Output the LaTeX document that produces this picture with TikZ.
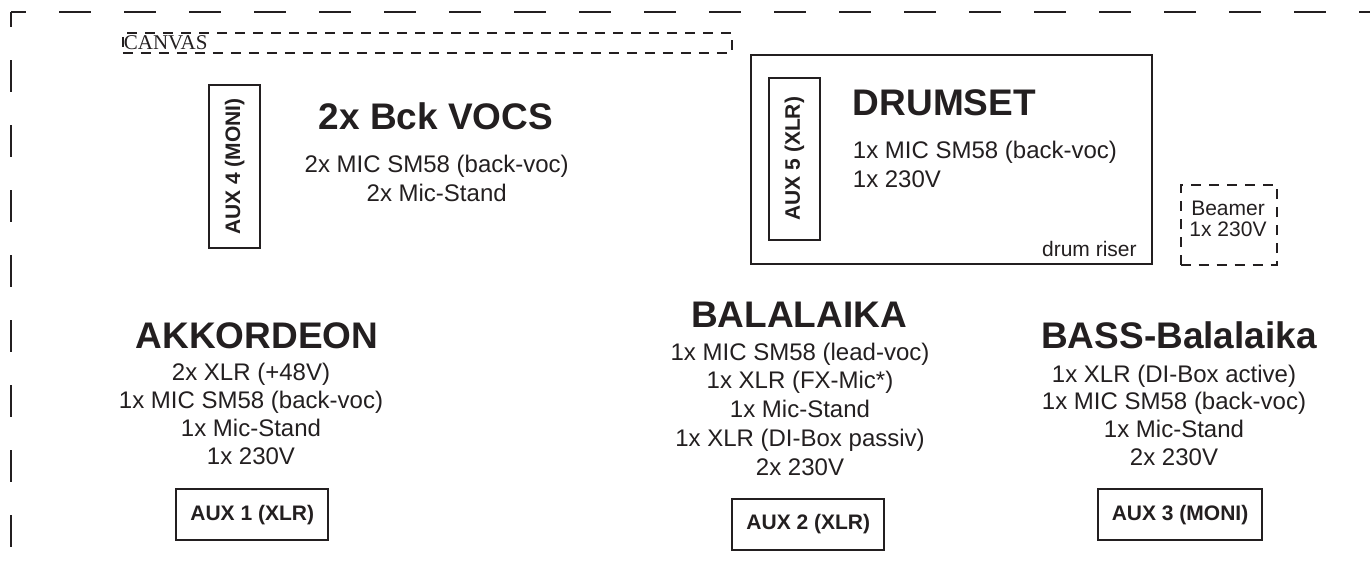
\documentclass[tikz,border=0pt]{standalone}
\usepackage{fontspec}
\setmainfont{Liberation Sans}
\newfontfamily\canvasfont{Liberation Serif}
\definecolor{ink}{RGB}{35,31,32}
\begin{document}
\begin{tikzpicture}[x=0.5pt,y=-0.5pt,
  every node/.style={text=ink, inner sep=0pt},
  titletext/.style={font=\bfseries\fontsize{18.5}{22}\selectfont, anchor=base},
  bodyline/.style={font=\fontsize{12}{14}\selectfont, anchor=base},
  smalltext/.style={font=\fontsize{10.5}{12}\selectfont, anchor=base},
  auxbox/.style={draw=ink, line width=1pt, font=\bfseries\fontsize{10.5}{12}\selectfont,
    minimum height=25.5pt, inner sep=0pt},
  framedash/.style={draw=ink, line width=0.9pt, dash pattern=on 16pt off 16.5pt, dash phase=8.5pt},
  finedash/.style={draw=ink, line width=0.8pt, dash pattern=on 5pt off 4pt},
  plainbox/.style={draw=ink, line width=1pt}
]
\useasboundingbox (0,0) rectangle (1370,568);

% outer stage frame (cut at the right and bottom)
\coordinate (corner) at (11,12);
\coordinate (frameright) at (1375,12);
\coordinate (framebottom) at (11,575);
\draw[framedash] (corner) -- (frameright);
\draw[framedash] (corner) -- (framebottom);

% canvas
\node[finedash, minimum width=304.5pt, minimum height=10pt, anchor=north west] (canvasbox) at (122,32) {};
\node[font=\canvasfont\fontsize{10.5}{12}\selectfont, anchor=base west] (canvaslbl) at (123.5,49.3) {CANVAS};

% back vocals
\node[auxbox, rotate=90, minimum width=81.5pt] (aux4) at (234.7,166.7) {AUX 4 (MONI)};
\node[titletext] (vocs) at (436,129) {2x Bck VOCS};
\node[bodyline] (vocs1) at (436.7,172.5) {2x MIC SM58 (back-voc)};
\node[bodyline] (vocs2) at (436.7,201.5) {2x Mic-Stand};

% drumset
\node[plainbox, minimum width=200.5pt, minimum height=104.5pt, anchor=north west] (drumbox) at (750,54) {};
\node[auxbox, rotate=90, minimum width=81pt] (aux5) at (794.5,158.8) {AUX 5 (XLR)};
\node[titletext, anchor=base west] (drum) at (852.5,115) {DRUMSET};
\node[bodyline, anchor=base west] (drum1) at (852.5,158) {1x MIC SM58 (back-voc)};
\node[bodyline, anchor=base west] (drum2) at (852.5,187) {1x 230V};
\node[smalltext, anchor=base east] (riser) at (1137,256.7) {drum riser};

% beamer
\node[finedash, minimum width=48pt, minimum height=40pt] (beamerbox) at (1228.7,225) {};
\node[smalltext] (beamer1) at (1228,215) {Beamer};
\node[smalltext] (beamer2) at (1228,236.7) {1x 230V};

% akkordeon
\node[titletext] (akk) at (257,348.3) {AKKORDEON};
\foreach \t [count=\i] in {2x XLR (+48V), 1x MIC SM58 (back-voc), 1x Mic-Stand, 1x 230V}
  \node[bodyline] (akk\i) at ({251},{380+28*(\i-1)}) {\t};
\node[auxbox, minimum width=76pt] (aux1) at (252.2,514.7) {AUX 1 (XLR)};

% balalaika
\node[titletext] (bal) at (799,327.5) {BALALAIKA};
\foreach \t [count=\i] in {1x MIC SM58 (lead-voc), 1x XLR (FX-Mic*), 1x Mic-Stand, 1x XLR (DI-Box passiv), 2x 230V}
  \node[bodyline] (bal\i) at ({800},{360+28.75*(\i-1)}) {\t};
\node[auxbox, minimum width=76pt] (aux2) at (808.3,524.3) {AUX 2 (XLR)};

% bass balalaika
\node[titletext] (bass) at (1179,348.3) {BASS-Balalaika};
\foreach \t [count=\i] in {1x XLR (DI-Box active), 1x MIC SM58 (back-voc), 1x Mic-Stand, 2x 230V}
  \node[bodyline] (bass\i) at ({1174},{382+27.7*(\i-1)}) {\t};
\node[auxbox, minimum width=81.7pt] (aux3) at (1180,514.7) {AUX 3 (MONI)};
\end{tikzpicture}
\end{document}
